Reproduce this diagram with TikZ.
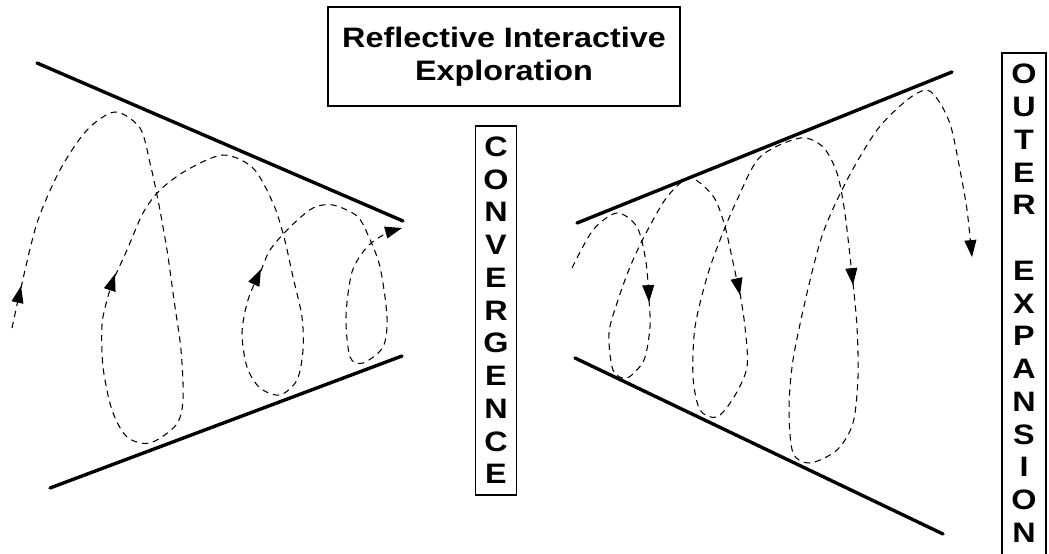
\documentclass[tikz,border=0pt]{standalone}
\usepackage{fontspec}
\newfontfamily\rotulo[FakeStretch=1.15]{Liberation Sans}
\usetikzlibrary{arrows.meta, positioning}

\begin{document}
\begin{tikzpicture}[
        x=0.025cm, y=-0.025cm,
        >={Triangle[length=12pt, width=8.5pt]},
        every node/.style={
            font=\rotulo\bfseries\fontsize{20}{23.3}\selectfont,
            align=center
        },
        caixa/.style={
            draw,
            line width=1.2pt,
            inner sep=0pt
        },
        borda/.style={
            line width=2.4pt,
            line cap=round
        },
        espiral/.style={
            ->,
            line width=0.75pt,
            dash pattern=on 4.5pt off 3.5pt
        }
    ]

    \path[use as bounding box, clip] (0,0) rectangle (1049,553);

    \node[caixa, minimum width=8.8cm, minimum height=2.475cm] (titulo) at (504,56.5) {
        Reflective Interactive\\Exploration
    };

    \node[caixa, minimum width=1.025cm, minimum height=9.225cm,
        below=0.45cm of titulo, xshift=-0.2cm] (convergencia) {
        C\\O\\N\\V\\E\\R\\G\\E\\N\\C\\E
    };

    \node[caixa, minimum width=1.1cm, inner ysep=8pt, text depth=380pt,
        anchor=north] (expansao) at (1024,52) {
        O\\U\\T\\E\\R\\[23.3pt]E\\X\\P\\A\\N\\S\\I\\O\\N
    };

    \draw[borda] (37,63) -- (403,221);
    \draw[borda] (50,488) -- (402,356);
    \draw[borda] (577,223) -- (952,72);
    \draw[borda] (575,358) -- (943,534);

    \draw[espiral] (12,328) -- (21,286);
    \draw[espiral] plot[smooth] coordinates {
        (21,288) (37,223) (60,170) (87,130) (115,112) (140,128) (150,163)
        (158,200) (167,250) (174,300) (181,350) (183,400) (176,425)
        (150,443) (127,437) (112,410) (103,367) (102,325) (107,300) (115,274)};
    \draw[espiral] plot[smooth] coordinates {
        (115,276) (127,250) (143,213) (160,190) (187,170) (223,155)
        (253,168) (273,203) (284,237) (293,277) (302,317) (303,350)
        (297,380) (280,395) (260,388) (247,367) (242,333) (248,300) (261,269)};
    \draw[espiral] plot[smooth] coordinates {
        (261,271) (270,250) (290,227) (313,208) (333,205) (357,216)
        (368,235) (380,267) (387,317) (383,347) (363,363) (350,357)
        (346,317) (352,272) (367,247) (385,234) (402,228)};

    \draw[espiral] plot[smooth] coordinates {
        (572,268) (593,230) (617,213) (637,227) (646,262) (649,302)};
    \draw[espiral] plot[smooth] coordinates {
        (649,300) (650,327) (644,360) (627,378) (613,370) (609,333)
        (618,300) (630,267) (645,235) (667,197) (690,178) (713,196)
        (724,223) (731,253) (740,295)};
    \draw[espiral] plot[smooth] coordinates {
        (740,293) (745,327) (747,367) (734,397) (717,417) (700,410)
        (693,377) (695,327) (707,277) (720,240) (737,200) (760,157)
        (800,138) (823,147) (837,173) (844,207) (849,247) (853,285)};
    \draw[espiral] plot[smooth] coordinates {
        (853,283) (857,327) (858,377) (853,423) (837,450) (810,463)
        (793,453) (789,410) (793,360) (807,293) (823,233) (847,180)
        (877,130) (907,100) (927,90) (940,103) (951,127) (960,170)
        (967,210) (972,257)};

\end{tikzpicture}
\end{document}
